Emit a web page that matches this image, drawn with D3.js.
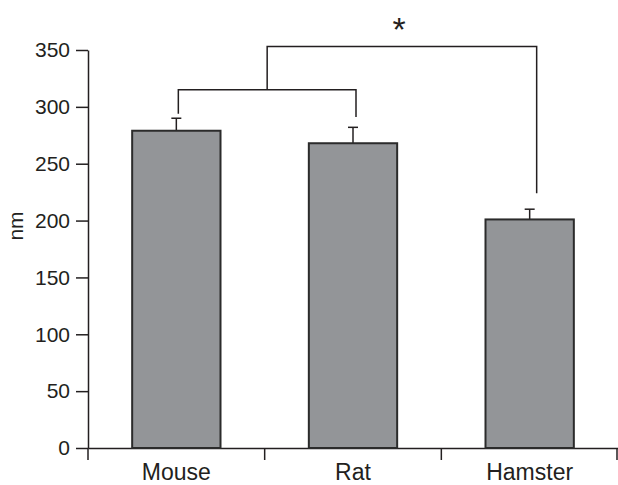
<!DOCTYPE html>
<html>
<head>
<meta charset="utf-8">
<script src="https://cdn.jsdelivr.net/npm/d3@7"></script>
<style>
  body { margin: 0; background: #fff; }
  text { font-family: "Liberation Sans", Arial, sans-serif; fill: #231f20; }
</style>
</head>
<body>
<div id="chart-area"></div>
<script>
// Particle size by species
var categories = ["Mouse", "Rat", "Hamster"];
var means = [279, 268, 201];
var errors = [11, 14, 9];
var yTicks = [0, 50, 100, 150, 200, 250, 300, 350];
// significance brackets, in data units
var innerBracket = { from: "Mouse", to: "Rat", level: 315, leftEnd: 294, rightEnd: 291 };
var outerBracket = { level: 353, rightEnd: 224 };

var W = 618, H = 485;
var ink = "#231f20";

var svg = d3.select("#chart-area").append("svg")
    .attr("width", W)
    .attr("height", H);

var x = d3.scaleBand().domain(categories).range([88, 618]).padding(0);
var y = d3.scaleLinear().domain([0, 350]).range([448, 50]);
var barW = x.bandwidth() / 2;
var cx = function (c) { return x(c) + x.bandwidth() / 2; };

// Y axis
var yAxisGroup = svg.append("g")
    .attr("transform", "translate(88,0)")
    .call(d3.axisLeft(y).tickValues(yTicks).tickSize(12).tickSizeOuter(0).tickPadding(6));
yAxisGroup.selectAll("path, line").attr("stroke", ink).attr("stroke-width", 1.5);
yAxisGroup.selectAll("text")
    .attr("font-size", "21px")
    .attr("font-family", "Liberation Sans, Arial, sans-serif")
    .attr("fill", ink);
// axis continues below zero
svg.append("line")
    .attr("x1", 88).attr("x2", 88)
    .attr("y1", y(0)).attr("y2", y(0) + 12)
    .attr("stroke", ink).attr("stroke-width", 1.5);

// Y label
svg.append("text")
    .attr("transform", "translate(23,226) rotate(-90)")
    .attr("text-anchor", "middle")
    .attr("font-size", "21px")
    .text("nm");

// X axis
var xAxisGroup = svg.append("g")
    .attr("transform", "translate(0," + y(0) + ")")
    .call(d3.axisBottom(x).tickSize(0).tickSizeOuter(0).tickPadding(16));
xAxisGroup.select(".domain").attr("stroke", ink).attr("stroke-width", 1.5);
xAxisGroup.selectAll("text")
    .attr("font-size", "23px")
    .attr("font-family", "Liberation Sans, Arial, sans-serif")
    .attr("fill", ink);
// tick marks sit between the categories
svg.append("g").selectAll("line")
    .data(categories)
    .enter().append("line")
    .attr("x1", function (d) { return Math.min(x(d) + x.bandwidth(), W - 1); })
    .attr("x2", function (d) { return Math.min(x(d) + x.bandwidth(), W - 1); })
    .attr("y1", y(0))
    .attr("y2", y(0) + 12)
    .attr("stroke", ink)
    .attr("stroke-width", 1.5);

// Error bars (upper only)
var eg = svg.append("g");
categories.forEach(function (c, i) {
    var top = y(means[i] + errors[i]);
    eg.append("line")
        .attr("x1", cx(c)).attr("x2", cx(c))
        .attr("y1", y(means[i])).attr("y2", top)
        .attr("stroke", ink).attr("stroke-width", 1.5);
    eg.append("line")
        .attr("x1", cx(c) - 5).attr("x2", cx(c) + 5)
        .attr("y1", top).attr("y2", top)
        .attr("stroke", ink).attr("stroke-width", 1.5);
});

// Bars
svg.append("g").selectAll("rect")
    .data(categories)
    .enter().append("rect")
    .attr("x", function (d) { return cx(d) - barW / 2; })
    .attr("y", function (d, i) { return y(means[i]); })
    .attr("width", barW)
    .attr("height", function (d, i) { return y(0) - y(means[i]); })
    .attr("fill", "#939598")
    .attr("stroke", "#2b2b2b")
    .attr("stroke-width", 2);

// Brackets
var bx1 = cx(innerBracket.from) + 2,
    bx2 = cx(innerBracket.to) + 3,
    bmid = (bx1 + bx2) / 2,
    bx3 = cx("Hamster") + 7;
var bracket = svg.append("g")
    .attr("fill", "none")
    .attr("stroke", ink)
    .attr("stroke-width", 1.5);
bracket.append("path")
    .attr("d", "M" + bx1 + "," + y(innerBracket.leftEnd) +
        "V" + y(innerBracket.level) +
        "H" + bx2 +
        "V" + y(innerBracket.rightEnd));
bracket.append("path")
    .attr("d", "M" + bmid + "," + y(innerBracket.level) +
        "V" + y(outerBracket.level) +
        "H" + bx3 +
        "V" + y(outerBracket.rightEnd));

svg.append("text")
    .attr("x", 399)
    .attr("y", 41)
    .attr("text-anchor", "middle")
    .attr("font-family", "DejaVu Sans, sans-serif")
    .attr("font-size", "34px")
    .text("*");
</script>
</body>
</html>
